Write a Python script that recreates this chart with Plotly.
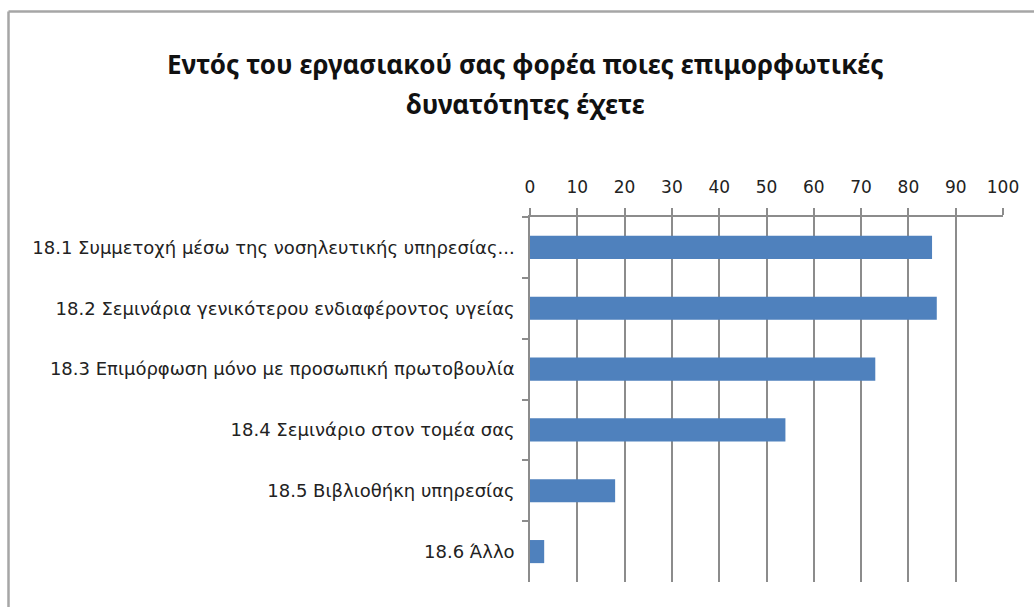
import plotly.graph_objects as go

# Survey item labels and percentages
categories = [
    "18.1 Συμμετοχή μέσω της νοσηλευτικής υπηρεσίας...",
    "18.2 Σεμινάρια γενικότερου ενδιαφέροντος υγείας",
    "18.3 Επιμόρφωση μόνο με προσωπική πρωτοβουλία",
    "18.4 Σεμινάριο στον τομέα σας",
    "18.5 Βιβλιοθήκη υπηρεσίας",
    "18.6 Άλλο",
]
values = [85, 86, 73, 54, 18, 3]
x_ticks = [0, 10, 20, 30, 40, 50, 60, 70, 80, 90, 100]

title_lines = [
    "Εντός του εργασιακού σας φορέα ποιες επιμορφωτικές",
    "δυνατότητες έχετε",
]

W, H = 1034, 607
ML, MR, MT, MB = 530, 31, 217, 25
PW = W - ML - MR
PH = H - MT - MB

FONT = "Noto Sans"
LABEL_FONT = "DejaVu Sans"
GRID = "#8c8c8c"

fig = go.Figure(
    go.Bar(
        x=values,
        y=categories,
        orientation="h",
        width=0.38,
        marker=dict(color="#4f81bd", line=dict(width=0)),
        hoverinfo="x+y",
    )
)

# outer chart frame (top and left edges)
fx = (8.5 - ML) / PW
fy = 1 + (MT - 11.5) / PH
fig.add_shape(type="line", xref="paper", yref="paper", x0=fx, x1=(W + 5 - ML) / PW,
              y0=fy, y1=fy, line=dict(color="#a6a6a6", width=2.5))
fig.add_shape(type="line", xref="paper", yref="paper", x0=fx, x1=fx,
              y0=fy, y1=-(MB + 5) / PH, line=dict(color="#a6a6a6", width=2.5))

# two-line chart title, with wider line spacing than the default
for line, ypx in zip(title_lines, [64, 104]):
    fig.add_annotation(
        text=line,
        xref="paper", yref="paper",
        x=(525 - ML) / PW, y=1 + (MT - ypx) / PH,
        xanchor="center", yanchor="middle",
        showarrow=False,
        font=dict(family=FONT, size=26, color="#111111", weight="bold"),
    )

fig.update_layout(
    width=W,
    height=H,
    margin=dict(l=ML, r=MR, t=MT, b=MB, pad=0),
    paper_bgcolor="white",
    plot_bgcolor="white",
    showlegend=False,
    font=dict(family=FONT, color="#1a1a1a"),
    bargap=0.62,
)

fig.update_xaxes(
    side="top",
    range=[0, 100],
    tickvals=x_ticks,
    ticktext=[str(v) for v in x_ticks],
    showgrid=True,
    gridcolor=GRID,
    gridwidth=1.5,
    showline=True,
    linecolor=GRID,
    linewidth=1.5,
    ticks="outside",
    ticklen=7,
    tickcolor=GRID,
    tickwidth=1.5,
    ticklabelstandoff=8,
    tickfont=dict(family=LABEL_FONT, size=17, color="#222222"),
    zeroline=False,
    fixedrange=True,
)

fig.update_yaxes(
    type="category",
    categoryorder="array",
    categoryarray=categories,
    autorange="reversed",
    showgrid=False,
    showline=True,
    linecolor=GRID,
    linewidth=1.5,
    ticks="outside",
    tickson="boundaries",
    ticklen=6,
    tickcolor=GRID,
    tickwidth=1.5,
    ticklabelstandoff=10,
    tickfont=dict(family=LABEL_FONT, size=18, color="#222222"),
    fixedrange=True,
)

fig.write_html("out.html", config={"displayModeBar": False})
